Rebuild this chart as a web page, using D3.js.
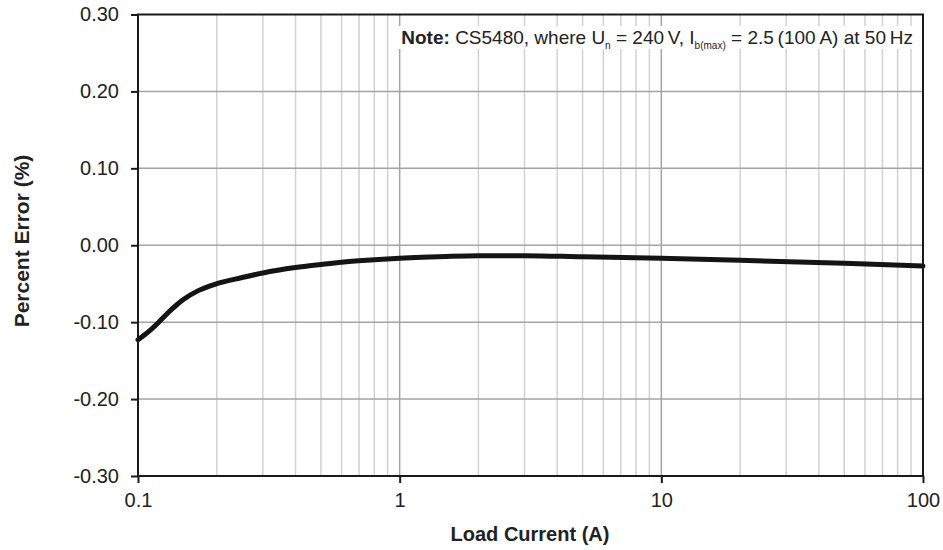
<!DOCTYPE html>
<html>
<head>
<meta charset="utf-8">
<script src="https://cdn.jsdelivr.net/npm/d3@7"></script>
<style>
  body { margin: 0; background: #fff; }
  svg { display: block; font-family: "Liberation Sans", Arial, sans-serif; }
</style>
</head>
<body>
<div id="chart"></div>
<script>
// load current (A) and percent error
const loadCurrent = [0.1, 0.11, 0.12, 0.13, 0.14, 0.15, 0.17, 0.2, 0.25, 0.3, 0.4, 0.5, 0.6, 0.8, 1, 1.5, 2, 3, 5, 10, 20, 50, 100]
const percentError = [-0.123, -0.112, -0.100, -0.088, -0.078, -0.070, -0.059, -0.050, -0.042, -0.036, -0.029, -0.025, -0.022, -0.019, -0.017, -0.0145, -0.0135, -0.0135, -0.015, -0.017, -0.0195, -0.0235, -0.027]

const xTicks = [0.1, 1, 10, 100]
const xTickLabels = ["0.1", "1", "10", "100"]
const yTicks = [0.3, 0.2, 0.1, 0, -0.1, -0.2, -0.3]
const yTickLabels = ["0.30", "0.20", "0.10", "0.00", "-0.10", "-0.20", "-0.30"]

const width = 943, height = 550
const margin = {top: 14.5, right: 20, bottom: 74, left: 138}

const svg = d3.select("#chart").append("svg")
  .attr("width", width)
  .attr("height", height)
  .attr("viewBox", [0, 0, width, height])

const x = d3.scaleLog()
  .domain([0.1, 100])
  .range([margin.left, width - margin.right])

const y = d3.scaleLinear()
  .domain([-0.3, 0.3])
  .range([height - margin.bottom, margin.top])

// minor grid 2..9 per decade
const minor = []
for (let d = 0.1; d < 100; d *= 10) {
  for (let k = 2; k <= 9; k++) minor.push(+(d * k).toPrecision(3))
}

svg.append("g")
  .selectAll("line")
  .data(minor)
  .join("line")
    .attr("x1", d => x(d)).attr("x2", d => x(d))
    .attr("y1", y(0.3)).attr("y2", y(-0.3))
    .attr("stroke", "#d2d2d2")
    .attr("stroke-width", 1.5)

svg.append("g")
  .selectAll("line")
  .data([1, 10])
  .join("line")
    .attr("x1", d => x(d)).attr("x2", d => x(d))
    .attr("y1", y(0.3)).attr("y2", y(-0.3))
    .attr("stroke", "#a4a4a4")
    .attr("stroke-width", 1.5)

svg.append("g")
  .selectAll("line")
  .data(yTicks.filter(d => Math.abs(d) < 0.3))
  .join("line")
    .attr("x1", x(0.1)).attr("x2", x(100))
    .attr("y1", d => y(d)).attr("y2", d => y(d))
    .attr("stroke", "#a4a4a4")
    .attr("stroke-width", 1.5)

// white box behind the note
svg.append("rect")
  .attr("x", 392).attr("y", 26)
  .attr("width", 528).attr("height", 23)
  .attr("fill", "#fff")

const note = svg.append("text")
  .attr("x", 913).attr("y", 43.5)
  .attr("text-anchor", "end")
  .attr("font-size", 19)
  .attr("fill", "#222")
note.append("tspan").attr("font-weight", "bold").text("Note:")
note.append("tspan").text(" CS5480, where U")
note.append("tspan").attr("font-size", 10).attr("dy", 5).text("n")
note.append("tspan").attr("dy", -5).text(" = 240\u2009V, I")
note.append("tspan").attr("font-size", 10).attr("dy", 5).text("b(max)")
note.append("tspan").attr("dy", -5).text(" = 2.5\u2009(100\u2009A) at 50\u2009Hz")

// the curve
const line = d3.line()
  .x((d, i) => x(loadCurrent[i]))
  .y(d => y(d))
  .curve(d3.curveMonotoneX)

svg.append("path")
  .datum(percentError)
  .attr("fill", "none")
  .attr("stroke", "#141414")
  .attr("stroke-width", 5)
  .attr("stroke-linecap", "round")
  .attr("d", line)

// frame
svg.append("rect")
  .attr("x", x(0.1)).attr("y", y(0.3))
  .attr("width", x(100) - x(0.1))
  .attr("height", y(-0.3) - y(0.3))
  .attr("fill", "none")
  .attr("stroke", "#1a1a1a")
  .attr("stroke-width", 2)

const yAxis = g => g
  .attr("transform", `translate(${margin.left},0)`)
  .call(d3.axisLeft(y)
    .tickValues(yTicks)
    .tickFormat((d, i) => yTickLabels[i])
    .tickSize(7)
    .tickPadding(12))
  .call(g => g.select(".domain").remove())
  .call(g => g.selectAll(".tick line").attr("stroke", "#1a1a1a").attr("stroke-width", 2))
  .call(g => g.selectAll(".tick text").attr("font-size", 20).attr("fill", "#222"))

const xAxis = g => g
  .attr("transform", `translate(0,${height - margin.bottom})`)
  .call(d3.axisBottom(x)
    .tickValues(xTicks)
    .tickFormat((d, i) => xTickLabels[i])
    .tickSize(7)
    .tickPadding(10))
  .call(g => g.select(".domain").remove())
  .call(g => g.selectAll(".tick line").attr("stroke", "#1a1a1a").attr("stroke-width", 2))
  .call(g => g.selectAll(".tick text").attr("font-size", 20).attr("fill", "#222"))

svg.append("g").call(yAxis).attr("font-family", null)
svg.append("g").call(xAxis).attr("font-family", null)

svg.append("text")
  .attr("x", 530).attr("y", 541)
  .attr("text-anchor", "middle")
  .attr("font-size", 20)
  .attr("font-weight", "bold")
  .attr("fill", "#222")
  .text("Load Current (A)")

svg.append("text")
  .attr("transform", `translate(29,241) rotate(-90)`)
  .attr("text-anchor", "middle")
  .attr("font-size", 21)
  .attr("font-weight", "bold")
  .attr("fill", "#222")
  .text("Percent Error (%)")
</script>
</body>
</html>
